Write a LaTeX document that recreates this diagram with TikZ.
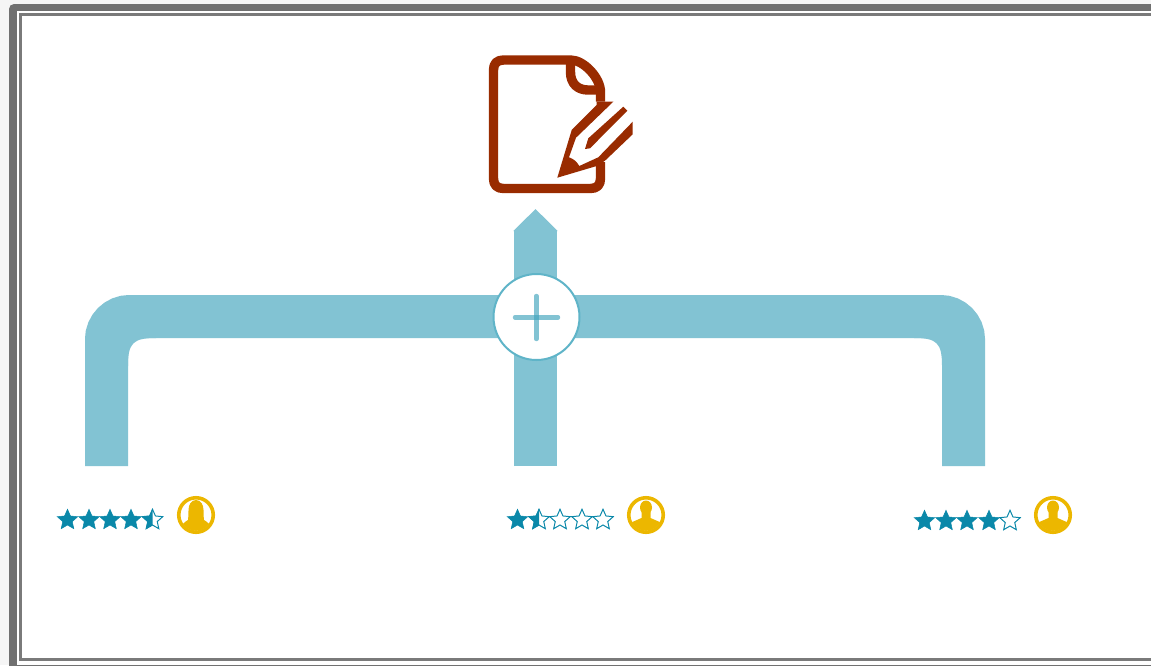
\documentclass[tikz,border=0pt]{standalone}
\usetikzlibrary{shapes.geometric,arrows.meta}
\definecolor{bartl}{HTML}{82C3D3}
\definecolor{ringtl}{HTML}{5FB4C8}
\definecolor{plustl}{HTML}{3FA3BC}
\definecolor{docbr}{HTML}{992B00}
\definecolor{startl}{HTML}{0A88A9}
\definecolor{gold}{HTML}{ECB700}
\tikzset{
  bar/.style={draw=bartl,line width=43pt,line cap=butt},
  fillet/.style={fill=bartl,draw=none},
  docline/.style={draw=docbr,line width=9.4pt,line cap=butt,line join=round},
  docfill/.style={fill=docbr,draw=none},
  fullstar/.style={star,star points=5,star point ratio=2.15,minimum size=21.5pt,inner sep=0pt,fill=startl,draw=startl,line width=.5pt},
  openstar/.style={fullstar,fill=white,line width=1pt},
  halo/.style={circle,minimum size=34.5pt,inner sep=0pt,fill=white,draw=gold,line width=3.6pt},
  plusnode/.style={circle,minimum size=86pt,inner sep=0pt,fill=white,draw=ringtl,line width=2pt},
  plusbar/.style={draw=plustl,opacity=.65,line width=4.4pt,line cap=round},
}
\newcommand{\halfstar}[3]{%
  \node[openstar] (#3) at (#1,#2) {};
  \begin{scope}
    \clip (#1-12,#2-12) rectangle (#1,#2+12);
    \node[fullstar] at (#1,#2) {};
  \end{scope}}
\newcommand{\manicon}[3]{%
  \node[halo] (#3) at (#1,#2) {};
  \begin{scope}
    \clip (#1,#2) circle (15.8);
    \fill[gold] (#1,#2-7.5) ellipse (6 and 7);
    \fill[gold] (#1-18,#2+20) -- (#1-16,#2+8) -- (#1-4.5,#2+3) -- (#1-4.5,#2-3)
      -- (#1+4.5,#2-3) -- (#1+4.5,#2+3) -- (#1+16,#2+8) -- (#1+18,#2+20) -- cycle;
  \end{scope}}
\newcommand{\womanicon}[3]{%
  \node[halo] (#3) at (#1,#2) {};
  \begin{scope}
    \clip (#1,#2) circle (15.8);
    \fill[gold] (#1,#2-15) .. controls (#1-5,#2-15) and (#1-7.5,#2-10) .. (#1-7.5,#2-5)
      .. controls (#1-7.5,#2-1) and (#1-7.5,#2+2) .. (#1-8,#2+5)
      .. controls (#1-11,#2+7) and (#1-15,#2+8) .. (#1-17,#2+20) -- (#1+17,#2+20)
      .. controls (#1+15,#2+8) and (#1+11,#2+7) .. (#1+8,#2+5)
      .. controls (#1+7.5,#2+2) and (#1+7.5,#2-1) .. (#1+7.5,#2-5)
      .. controls (#1+7.5,#2-10) and (#1+5,#2-15) .. (#1,#2-15) -- cycle;
  \end{scope}}
\begin{document}
\begin{tikzpicture}[x=1pt,y=-1pt]
\useasboundingbox (0,0) rectangle (1151,665);
% page and frame
\fill[black!4] (0,0) rectangle (1151,665);
\fill[fill=black!56,rounded corners=5pt] (9,4) rectangle (1160,675);
\fill[white] (17,11) rectangle (1151,665);
\draw[black!52,line width=2.6pt] (1155,14.7) -- (20.3,14.7) -- (20.3,659.7) -- (1155,659.7);

% anchors of the connectors
\coordinate (rateA) at (106.5,466);
\coordinate (rateB) at (535.5,466);
\coordinate (rateC) at (963.5,466);
\coordinate (docfoot) at (535.5,209);
\coordinate (hub) at (536.5,316.5);

% connectors
\draw[bar,rounded corners=23pt] (rateA) |- (hub);
\draw[bar,rounded corners=23pt] (rateC) |- (hub);
\draw[bar,-{Triangle[length=22pt,width=43pt]}] (rateB) -- (docfoot);
\fill[fillet] (128,337) -- (128,366) .. controls (128,343) and (133,338) .. (156,338) -- (156,337) -- cycle;
\fill[fillet] (942,337) -- (942,366) .. controls (942,343) and (937,338) .. (914,338) -- (914,337) -- cycle;

% plus node
\node[plusnode] (plus) at (536.5,317) {};
\draw[plusbar] (515,317.3) -- (558,317.3);
\draw[plusbar] (536.4,296) -- (536.4,339);

% document icon
\draw[docline] (600.5,101.7) -- (600.5,92) .. controls (600.5,78) and (584,60) .. (570.5,60)
  -- (503.5,60) .. controls (497,60) and (493.5,63.5) .. (493.5,70)
  -- (493.5,178.5) .. controls (493.5,185) and (497,188.5) .. (503.5,188.5)
  -- (590.5,188.5) .. controls (597,188.5) and (600.5,185) .. (600.5,178.5) -- (600.5,162);
\draw[docline] (570.5,58) -- (570.5,72) .. controls (570.5,84) and (578,90) .. (588,90) -- (602,90);
\fill[docfill] (557.3,177.7) -- (571.7,130) -- (596.7,105) -- (596.7,101.7) -- (613.3,101.7)
  -- (576,137.7) -- (569,157.3) .. controls (574,159) and (577,162) .. (579.3,166)
  -- (598.3,157.3) -- (632.7,121.7) -- (632.7,134.3) -- (605,160.7) -- (596.7,166) -- cycle;
\fill[docfill] (623.3,106.7) -- (627.3,110.7) -- (590,148.3) -- (585,149) -- (588.3,138.3) -- cycle;

% first rating
\node[fullstar] (a1) at (67.5,520) {};
\node[fullstar] (a2) at (89,520) {};
\node[fullstar] (a3) at (110,520) {};
\node[fullstar] (a4) at (131,520) {};
\halfstar{152.5}{520}{a5}
\womanicon{196}{515}{userA}

% second rating
\node[fullstar] (b1) at (517.5,520) {};
\halfstar{539}{520}{b2}
\node[openstar] (b3) at (560,520) {};
\node[openstar] (b4) at (582,520) {};
\node[openstar] (b5) at (603,520) {};
\manicon{646}{515}{userB}

% third rating
\node[fullstar] (c1) at (924.5,521) {};
\node[fullstar] (c2) at (946,521) {};
\node[fullstar] (c3) at (967,521) {};
\node[fullstar] (c4) at (989,521) {};
\node[openstar] (c5) at (1010,521) {};
\manicon{1053}{515}{userC}
\end{tikzpicture}
\end{document}
